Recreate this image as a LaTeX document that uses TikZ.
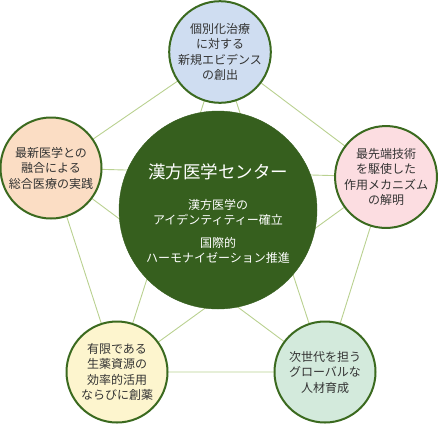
\documentclass[tikz,border=0pt]{standalone}
\usepackage{fontspec}
\setmainfont{Noto Sans CJK JP}
\usetikzlibrary{backgrounds}
\definecolor{ring}{HTML}{3B6A1F}
\definecolor{core}{HTML}{365F1E}
\definecolor{link}{HTML}{B9D190}
\definecolor{txt}{HTML}{333333}
\definecolor{fblue}{HTML}{CFDDF1}
\definecolor{fpeach}{HTML}{FBDDC4}
\definecolor{fpink}{HTML}{FCDDE1}
\definecolor{fyellow}{HTML}{FDF5CE}
\definecolor{fmint}{HTML}{D3EADC}
\begin{document}
\begin{tikzpicture}[x=1pt,y=-1pt,
  outer/.style={circle,draw=ring,line width=2pt,minimum size=101pt,inner sep=0pt,
    align=center,text=txt,font=\fontsize{12}{15.5}\selectfont},
  corebox/.style={circle,fill=core,draw=core,minimum size=198pt,inner sep=0pt},
  coretext/.style={text=white,align=center,inner sep=0pt,font=\fontsize{12}{15}\selectfont},
  linkline/.style={draw=link,line width=0.9pt}]
\useasboundingbox (0,0) rectangle (438,424);
\node[outer,fill=fblue] (t) at (220,52) {個別化治療\\に対する\\新規エビデンス\\の創出};
\node[outer,fill=fpeach] (l) at (51,168) {最新医学との\\融合による\\総合医療の実践};
\node[outer,fill=fpink] (r) at (386,177) {最先端技術\\を駆使した\\作用メカニズム\\の解明};
\node[outer,fill=fyellow] (bl) at (117,372) {有限である\\生薬資源の\\効率的活用\\ならびに創薬};
\node[outer,fill=fmint] (br) at (325,372) {次世代を担う\\グローバルな\\人材育成};
\node[corebox] (c) at (218,210) {};
\node[coretext,font=\fontsize{17.5}{20}\selectfont] (title) at (218,172) {漢方医学センター};
\node[coretext] (s1) at (218,212.5) {漢方医学の\\アイデンティティー確立};
\node[coretext] (s2) at (218,250.5) {国際的\\ハーモナイゼーション推進};
\begin{pgfonlayer}{background}
\draw[linkline] (t.center) -- (l.center) -- (bl.center) -- (br.center) -- (r.center) -- (t.center);
\draw[linkline] (t.center) -- (bl.center);
\draw[linkline] (t.center) -- (br.center);
\draw[linkline] (l.center) -- (r.center);
\draw[linkline] (l.center) -- (br.center);
\draw[linkline] (r.center) -- (bl.center);
\end{pgfonlayer}
\end{tikzpicture}
\end{document}
